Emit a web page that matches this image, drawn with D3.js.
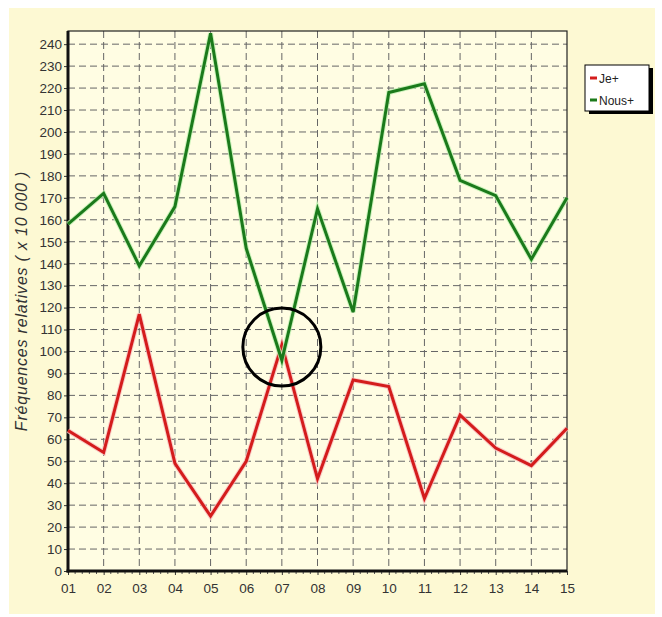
<!DOCTYPE html>
<html><head><meta charset="utf-8">
<script src="https://cdn.jsdelivr.net/npm/d3@7"></script>
<style>body{margin:0;background:#fff}svg{display:block}</style>
</head><body>
<script>
const categories = ["01","02","03","04","05","06","07","08","09","10","11","12","13","14","15"];
const jeValues   = [64,54,117,49,25,50,103,42,87,84,33,71,56,48,65];
const nousValues = [158,172,139,166,245,147,96,165,118,218,222,178,171,142,170];
const yTicks = d3.range(0,241,10);
const seriesNames = ["Je+","Nous+"];
const seriesColors = ["#d41c1c","#1b7a1b"];

const W=662,H=617;
const svg=d3.select("body").append("svg").attr("width",W).attr("height",H);
svg.append("rect").attr("x",9).attr("y",8).attr("width",646).attr("height",606).attr("fill","#fdf9d3");

const L=68,R=567,T=31,B=571;
const x=d3.scalePoint().domain(categories).range([L,R]);
const y=d3.scaleLinear().domain([0,246]).range([B,T]);

svg.append("rect").attr("x",L).attr("y",T).attr("width",R-L).attr("height",B-T).attr("fill","#fffde3");

// grid
const g=svg.append("g");
g.selectAll(".hg").data(yTicks.filter(d=>d>0)).join("line")
 .attr("x1",L).attr("x2",R).attr("y1",d=>y(d)).attr("y2",d=>y(d))
 .attr("stroke","#666").attr("stroke-width",1).attr("stroke-dasharray","7,4");
g.selectAll(".vg").data(categories.slice(1,-1)).join("line")
 .attr("x1",d=>x(d)).attr("x2",d=>x(d)).attr("y1",T).attr("y2",B)
 .attr("stroke","#666").attr("stroke-width",1).attr("stroke-dasharray","7,4");

// border
svg.append("rect").attr("x",L).attr("y",T).attr("width",R-L).attr("height",B-T)
 .attr("fill","none").attr("stroke","#222").attr("stroke-width",1.2);

// axes
const yAxis=d3.axisLeft(y).tickValues(yTicks).tickSize(4).tickPadding(2);
const ya=svg.append("g").attr("transform",`translate(${L},0)`).call(yAxis);
const xAxis=d3.axisBottom(x).tickSize(4).tickPadding(8);
const xa=svg.append("g").attr("transform",`translate(0,${B})`).call(xAxis);
[ya,xa].forEach(a=>{
  a.select(".domain").remove();
  a.selectAll("text").attr("font-family","Liberation Sans, Arial, sans-serif").attr("font-size",13.5).attr("fill","#333");
  a.selectAll(".tick line").attr("stroke","#333");
});
// minor ticks on x axis
const minor=[];
categories.slice(0,-1).forEach((c,i)=>{const a=x(c),b=x(categories[i+1]);for(let k=1;k<5;k++)minor.push(a+(b-a)*k/5);});
svg.append("g").selectAll("line").data(minor).join("line")
 .attr("x1",d=>d).attr("x2",d=>d).attr("y1",B).attr("y2",B+3).attr("stroke","#555");

svg.append("line").attr("x1",L).attr("x2",L).attr("y1",T).attr("y2",B+1.5).attr("stroke","#111").attr("stroke-width",3);
svg.append("line").attr("x1",L-1.5).attr("x2",R).attr("y1",B).attr("y2",B).attr("stroke","#111").attr("stroke-width",3);

// y label
svg.append("text").attr("transform",`translate(27,${(T+B)/2}) rotate(-90)`)
 .attr("text-anchor","middle").attr("font-family","Liberation Sans, Arial, sans-serif")
 .attr("font-style","italic").attr("font-size",16).attr("letter-spacing",0.8).attr("fill","#333")
 .text("Fréquences relatives ( x 10 000 )");

// lines
const line=d3.line().x((d,i)=>x(categories[i])).y(d=>y(d));
[jeValues,nousValues].forEach((vals,k)=>{
  svg.append("path").datum(vals).attr("d",line).attr("fill","none")
   .attr("stroke",k? "#bff0b0":"#f7c0c0").attr("stroke-width",5).attr("stroke-linejoin","miter").attr("opacity",0.8);
  svg.append("path").datum(vals).attr("d",line).attr("fill","none")
   .attr("stroke",seriesColors[k]).attr("stroke-width",3).attr("stroke-linejoin","miter");
});

// annotation circle
svg.append("circle").attr("cx",x("07")).attr("cy",y(102)).attr("r",39)
 .attr("fill","none").attr("stroke","#000").attr("stroke-width",3);

// legend
const lg=svg.append("g");
lg.append("rect").attr("x",589).attr("y",68).attr("width",64).attr("height",46).attr("fill","#000");
lg.append("rect").attr("x",585).attr("y",65).attr("width",64).attr("height",46).attr("fill","#fff").attr("stroke","#000").attr("stroke-width",1);
seriesNames.forEach((n,i)=>{
  const yy=78+i*22;
  lg.append("line").attr("x1",590).attr("x2",597).attr("y1",yy).attr("y2",yy).attr("stroke",seriesColors[i]).attr("stroke-width",3);
  lg.append("text").attr("x",599).attr("y",yy+4.5).attr("font-family","Liberation Sans, Arial, sans-serif")
   .attr("font-size",12).attr("fill","#222").text(n);
});
</script>
</body></html>
